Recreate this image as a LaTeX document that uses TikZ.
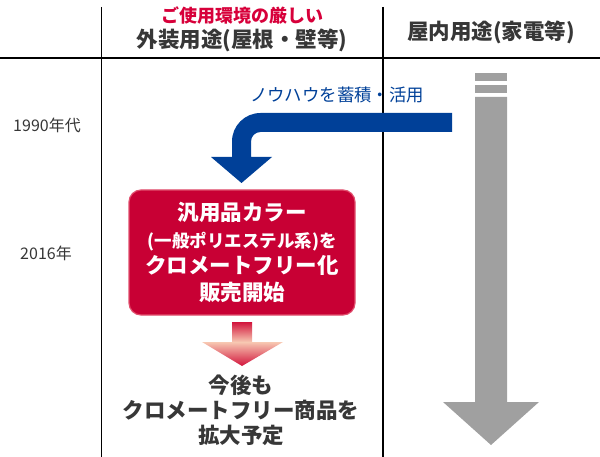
\documentclass[tikz,border=0pt]{standalone}
\usepackage{fontspec}
\setmainfont{Noto Sans CJK JP}
\definecolor{darktext}{RGB}{55,55,55}
\definecolor{redtext}{RGB}{215,0,58}
\definecolor{boxred}{RGB}{200,0,52}
\definecolor{boxedge}{RGB}{225,80,110}
\definecolor{knowblue}{RGB}{0,64,152}
\definecolor{arrowgray}{RGB}{160,160,160}
\definecolor{peach}{RGB}{247,200,178}
\definecolor{tipred}{RGB}{210,20,60}
\tikzset{
  gridline/.style={line width=1.4pt, black},
  yearlabel/.style={text=darktext, font=\fontsize{16}{18}\selectfont, inner sep=0pt},
  headlabel/.style={text=darktext, font=\bfseries\fontsize{21.5}{24}\selectfont, inner sep=0pt},
}
\begin{document}
\begin{tikzpicture}[x=1pt,y=-1pt]
\useasboundingbox (0,0) rectangle (600,457);
% grid
\draw[gridline] (0,58) -- (600,58);
\draw[gridline] (101.5,7) -- (101.5,457);
\draw[gridline] (383,7) -- (383,457);
% headers
\node[text=redtext, font=\bfseries\fontsize{18}{20}\selectfont, inner sep=0pt] (hred) at (242,16) {ご使用環境の厳しい};
\node[headlabel] (hout) at (242,40) {外装用途(屋根・壁等)};
\node[headlabel] (hin) at (491,32) {屋内用途(家電等)};
% year labels
\node[yearlabel] (y1990) at (47,125) {1990年代};
\node[yearlabel] (y2016) at (46,253) {2016年};
% gray arrow
\fill[arrowgray] (475,73) rectangle (507,81);
\fill[arrowgray] (475,85) rectangle (507,93);
\fill[arrowgray] (475,97) -- (507,97) -- (507,402) -- (539,402) -- (491,445) -- (443,402) -- (475,402) -- cycle;
% blue arrow
\fill[knowblue] (452,113) -- (260.5,113) arc[start angle=270, end angle=180, radius=28.5]
  -- (232,157) -- (211,157) -- (241.5,183) -- (272,157) -- (251,157) -- (251,141.5)
  arc[start angle=180, end angle=270, radius=9.5] -- (452,132) -- cycle;
\node[text=knowblue, font=\fontsize{17.4}{20}\selectfont, inner sep=0pt] (know) at (337,95) {ノウハウを蓄積・活用};
% red box
\node[draw=boxedge, line width=1.2pt, fill=boxred, rounded corners=12pt, minimum width=226pt, minimum height=125pt, inner sep=0pt, text=white, align=center, font=\bfseries\fontsize{21.5}{26.5}\selectfont] (box) at (242,252.5)
  {汎用品カラー\\{\fontsize{17.5}{26.5}\selectfont (一般ポリエステル系)を}\\クロメートフリー化\\販売開始};
% pink arrow with manual vertical gradient
\begin{scope}
  \clip (232,322) -- (252,322) -- (252,342) -- (283,342) -- (242,366) -- (202,342) -- (232,342) -- cycle;
  \foreach \i in {0,...,44} {
    \pgfmathsetmacro{\yy}{322+\i}
    \pgfmathsetmacro{\pp}{\yy<342 ? (342-\yy)/20*100 : (\yy-342)/24*100}
    \fill[tipred!\pp!peach] (200,\yy) rectangle (285,\yy+1.2);
  }
\end{scope}
% bottom text
\node[text=darktext, align=center, font=\bfseries\fontsize{21.5}{25}\selectfont, inner sep=0pt] (future) at (241,410) {今後も\\クロメートフリー商品を\\拡大予定};
\end{tikzpicture}
\end{document}
